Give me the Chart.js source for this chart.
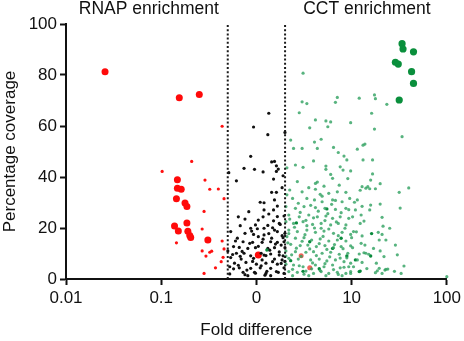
<!DOCTYPE html>
<html>
<head>
<meta charset="utf-8">
<script src="https://cdn.jsdelivr.net/npm/chart.js@4.4.1/dist/chart.umd.min.js"></script>
<style>
  html, body { margin: 0; padding: 0; background: #fff; }
  #wrap { width: 464px; height: 341px; }
</style>
</head>
<body>
<div id="wrap"><canvas id="volcano"></canvas></div>
<script>
// every point is [log10 fold difference, percentage coverage]
const xTicks = [0.01, 0.1, 1, 10, 100];
const xTickLabels = ['0.01', '0.1', '0', '10', '100'];
const yTicks = [0, 20, 40, 60, 80, 100];
const cutoffs = [0.5, 2];
const headers = ['RNAP enrichment', 'CCT enrichment'];

const rnapBig = [
  [-1.59, 81.3], [-0.81, 71.1], [-0.60, 72.4], [-0.83, 38.9], [-0.83, 35.6], [-0.79, 35.2],
  [-0.84, 31.5], [-0.75, 29.8], [-0.73, 28.4], [-0.73, 22.0], [-0.86, 20.8], [-0.82, 18.8],
  [-0.72, 18.7], [-0.70, 17.1], [-0.69, 16.3], [-0.51, 15.3], [0.02, 9.4]
];
const rnapSmall = [
  [-0.36, 59.9], [-0.99, 42.2], [-0.68, 46.1], [-0.54, 38.8], [-0.49, 35.2], [-0.40, 35.3],
  [-0.34, 31.5], [-0.55, 26.5], [-0.57, 19.6], [-0.84, 14.2], [-0.36, 14.9], [-0.57, 11.0],
  [-0.47, 10.9], [-0.53, 9.0], [-0.34, 11.8], [-0.37, 6.8], [-0.43, 4.4], [-0.55, 2.2],
  [-0.35, 8.5], [-0.49, 10.5]
];
const rnapMid = [[0.47, 9.1], [0.56, 4.4]];

const middle = [
  [0.13, 65.0], [-0.03, 59.6], [0.12, 56.6], [0.30, 57.5], [-0.06, 48.1], [0.16, 45.9],
  [0.19, 46.1], [-0.13, 43.4], [-0.02, 43.0], [0.07, 42.0], [0.21, 44.4], [0.23, 43.1],
  [0.21, 42.2], [-0.29, 41.7], [-0.21, 38.5], [0.18, 39.2], [0.28, 40.5], [0.16, 34.0],
  [0.21, 34.0], [0.19, 31.0], [0.04, 30.1], [0.08, 29.9], [0.18, 27.1], [0.08, 27.1],
  [-0.08, 26.4], [-0.19, 24.4], [0.07, 24.4], [0.22, 24.5], [0.29, 24.7], [0.02, 23.1],
  [-0.12, 23.5], [-0.17, 20.9], [-0.01, 21.2], [0.12, 21.0], [0.24, 21.8], [-0.06, 19.9],
  [0.08, 19.9], [0.17, 20.1], [0.19, 19.2], [-0.27, 18.6], [-0.12, 17.9], [-0.03, 17.5],
  [0.08, 17.3], [0.13, 17.8], [0.22, 18.6], [0.30, 17.9], [-0.20, 16.0], [0.02, 16.6],
  [0.16, 16.0], [0.28, 16.2], [-0.14, 14.6], [-0.04, 14.4], [0.06, 14.4], [0.15, 14.6],
  [0.22, 14.4], [0.26, 13.3], [-0.24, 12.7], [-0.18, 12.4], [-0.09, 12.0], [-0.01, 12.3],
  [0.12, 12.0], [0.19, 12.3], [0.30, 12.3], [-0.30, 11.0], [-0.21, 10.1], [-0.13, 10.1],
  [-0.06, 9.1], [0.08, 9.4], [0.15, 9.8], [0.24, 9.4], [-0.27, 8.4], [-0.16, 7.8],
  [-0.03, 8.1], [0.06, 7.5], [0.19, 7.8], [0.27, 7.5], [-0.23, 6.2], [-0.11, 6.5],
  [0.00, 5.8], [0.10, 6.2], [0.22, 5.8], [-0.28, 4.8], [-0.18, 4.4], [-0.06, 4.2],
  [0.04, 4.4], [0.15, 4.2], [0.29, 4.4], [-0.14, 2.6], [-0.02, 2.6], [0.10, 2.2],
  [0.23, 2.6], [-0.09, 1.3], [0.15, 1.3], [0.05, 10.1],
  [-0.28, 2.0], [-0.25, 9.6], [-0.22, 14.9], [-0.19, 5.4], [-0.15, 10.8], [-0.10, 3.5],
  [-0.07, 14.0], [-0.04, 6.9], [-0.01, 2.3], [0.02, 12.8], [0.05, 5.2], [0.07, 15.6],
  [0.10, 9.2], [0.11, 3.0], [0.14, 11.3], [0.17, 6.8], [0.20, 13.7], [0.21, 2.9],
  [0.24, 10.6], [0.26, 6.1], [0.27, 17.0], [0.29, 2.2], [0.28, 9.1], [0.25, 21.4],
  [0.22, 28.6], [0.27, 35.8], [0.29, 14.6], [0.30, 6.9], [0.18, 22.8], [0.13, 25.5],
  [-0.05, 18.8], [-0.17, 8.9], [-0.24, 4.0], [0.01, 19.7], [0.09, 1.5], [-0.12, 1.7]
];

const cctBig = [
  [1.53, 92.3], [1.54, 90.2], [1.65, 89.1], [1.46, 85.0], [1.49, 84.3], [1.63, 81.3],
  [1.65, 76.7], [1.50, 70.2]
];
const cctDark = [
  [1.21, 17.8], [1.04, 7.5], [1.09, 3.1], [1.08, 2.9], [0.56, 14.6], [0.42, 22.0],
  [0.74, 27.5], [0.95, 9.0], [0.36, 7.2], [0.66, 4.0], [0.89, 16.0], [1.20, 9.0],
  [0.49, 3.0], [0.80, 12.0], [0.11, 11.4]
];
const cctSmall = [
  [0.49, 80.7], [0.48, 69.5], [0.53, 68.8], [0.85, 71.2], [0.83, 69.3], [1.08, 70.9],
  [0.45, 65.2], [0.62, 62.4], [0.73, 62.0], [0.78, 61.6], [0.99, 61.3], [0.75, 59.7],
  [0.56, 59.3], [1.21, 65.0], [0.36, 54.5], [0.39, 51.2], [0.48, 51.2], [0.61, 53.7],
  [0.68, 54.8], [0.64, 51.2], [0.81, 51.6], [0.86, 49.6], [0.92, 48.2], [1.06, 50.9],
  [1.12, 52.5], [1.14, 52.9], [1.24, 72.2], [1.25, 70.7], [1.37, 68.5], [1.24, 58.8],
  [1.53, 55.8], [1.22, 46.7], [1.17, 36.2], [1.30, 29.4], [1.36, 3.8], [1.15, 10.1],
  [1.06, 7.5], [1.12, 46.7], [0.99, 42.4], [1.22, 41.2], [1.20, 38.8], [1.30, 37.4],
  [1.15, 35.6], [1.19, 35.4], [1.25, 35.4], [1.11, 36.2], [1.09, 34.8], [1.50, 34.0],
  [1.60, 35.7], [1.51, 27.8], [1.06, 31.0], [1.03, 30.1], [1.11, 28.5], [1.20, 29.0],
  [1.04, 27.1], [1.10, 25.1], [1.01, 24.4], [1.32, 24.2], [1.09, 21.8], [1.33, 20.7],
  [1.02, 18.6], [1.28, 18.3], [1.11, 16.9], [1.32, 17.5], [1.00, 16.2], [1.29, 15.3],
  [1.36, 15.3], [1.10, 14.0], [1.46, 13.3], [1.14, 13.3], [1.01, 12.3], [1.13, 10.3],
  [1.18, 9.7], [1.30, 11.0], [0.99, 6.2], [1.11, 6.5], [1.26, 6.2], [1.02, 4.8],
  [1.29, 4.2], [1.35, 3.5], [1.38, 3.9], [1.25, 2.5], [1.32, 2.2], [1.52, 2.2],
  [1.55, 5.1], [0.99, 2.2], [2.00, 0.9],
  [0.60, 46.3], [0.73, 44.3], [0.73, 43.0], [0.41, 44.7], [0.49, 43.8], [0.32, 43.6],
  [0.88, 44.0], [0.95, 46.7], [0.91, 42.7], [0.43, 38.2], [0.62, 37.5], [0.80, 39.5],
  [0.35, 34.9], [0.48, 34.2], [0.62, 35.2], [0.67, 33.2], [0.76, 33.6], [0.85, 34.2],
  [0.94, 34.0], [0.38, 31.6], [0.53, 31.6], [0.61, 31.0], [0.69, 30.3], [0.80, 31.0],
  [0.90, 30.3], [0.98, 31.6], [0.31, 28.4], [0.41, 27.7], [0.50, 28.4], [0.62, 28.0],
  [0.72, 27.7], [0.83, 27.3], [0.94, 27.7], [0.34, 25.1], [0.45, 24.4], [0.55, 25.1],
  [0.64, 24.4], [0.73, 24.7], [0.80, 23.8], [0.88, 24.4], [0.97, 23.8], [0.31, 22.5],
  [0.39, 21.8], [0.49, 22.5], [0.59, 21.4], [0.68, 21.8], [0.78, 21.2], [0.86, 21.8],
  [0.94, 21.2], [0.34, 19.2], [0.43, 18.6], [0.53, 19.2], [0.62, 18.3], [0.71, 18.8],
  [0.81, 17.9], [0.90, 18.3], [0.99, 17.5], [0.32, 16.6], [0.41, 16.0], [0.50, 16.2],
  [0.58, 15.3], [0.67, 15.7], [0.76, 14.9], [0.85, 15.3], [0.94, 14.9], [0.36, 13.6],
  [0.46, 13.1], [0.54, 13.3], [0.63, 12.7], [0.72, 13.1], [0.81, 12.3], [0.89, 12.7],
  [0.31, 11.0], [0.41, 10.7], [0.52, 10.5], [0.60, 10.7], [0.69, 10.1], [0.78, 10.5],
  [0.87, 9.7], [0.96, 10.1], [0.34, 8.1], [0.44, 7.8], [0.57, 7.5], [0.66, 7.8],
  [0.74, 7.1], [0.83, 7.5], [0.92, 6.8], [0.31, 5.8], [0.39, 5.5], [0.49, 4.8],
  [0.62, 5.5], [0.71, 4.8], [0.80, 5.5], [0.88, 4.4], [0.97, 4.8], [0.34, 2.9],
  [0.43, 2.6], [0.52, 3.1], [0.60, 2.2], [0.68, 2.9], [0.76, 2.2], [0.85, 2.6],
  [0.94, 2.2], [0.99, 2.9], [0.38, 1.3], [0.55, 1.3], [0.73, 1.3], [0.90, 1.3],
  [0.33, 14.2], [0.37, 9.5], [0.42, 12.1], [0.47, 8.9], [0.51, 17.4], [0.56, 11.8],
  [0.59, 6.3], [0.63, 9.2], [0.66, 13.9], [0.70, 16.7], [0.74, 11.6], [0.77, 8.7],
  [0.82, 13.5], [0.86, 17.0], [0.91, 11.9], [0.95, 8.3], [0.35, 23.5], [0.40, 20.3],
  [0.46, 26.1], [0.52, 23.0], [0.57, 28.9], [0.61, 20.0], [0.65, 26.6], [0.69, 32.5],
  [0.72, 22.9], [0.76, 19.6], [0.79, 29.3], [0.84, 22.4], [0.89, 26.0], [0.93, 19.9],
  [0.97, 27.2], [0.32, 33.0], [0.44, 29.7], [0.55, 35.8], [0.64, 38.0], [0.71, 36.4],
  [0.78, 41.0], [0.87, 36.8], [0.96, 39.4], [0.38, 3.8], [0.45, 5.2], [0.50, 1.9],
  [0.58, 4.0], [0.67, 3.3], [0.72, 6.0], [0.81, 3.7], [0.86, 1.8], [0.92, 4.6],
  [0.31, 9.0], [0.34, 17.8], [0.48, 14.8], [0.53, 20.9], [0.60, 24.0], [0.68, 19.9],
  [0.75, 25.6], [0.83, 30.8], [0.88, 8.2], [0.99, 13.0], [1.05, 18.5], [1.08, 9.8],
  [1.13, 22.7], [1.16, 4.1], [1.19, 27.1], [1.23, 12.0], [1.27, 3.2], [1.34, 8.8],
  [1.40, 19.9], [1.45, 3.0], [1.48, 9.5]
];

const FONT = "'Liberation Sans', Arial, sans-serif";

function toXY(list) {
  return list.map(p => ({ x: Math.pow(10, p[0]), y: p[1] }));
}

function dots(list, color, r) {
  return {
    type: 'scatter',
    data: toXY(list),
    backgroundColor: color,
    borderWidth: 0,
    pointRadius: r,
    pointHoverRadius: r,
    clip: false
  };
}

function cutoffLine(x) {
  return {
    type: 'line',
    data: [{ x: x, y: 0 }, { x: x, y: 100 }],
    borderColor: '#1a1a1a',
    borderWidth: 2,
    borderDash: [2, 2.2],
    pointRadius: 0,
    fill: false
  };
}

// header text above the two enrichment sides
const headerPlugin = {
  id: 'headers',
  afterDraw(chart) {
    const c = chart.ctx;
    const xs = chart.scales.x;
    c.save();
    c.font = '17.5px ' + FONT;
    c.fillStyle = '#111';
    c.textAlign = 'center';
    c.textBaseline = 'middle';
    c.fillText(headers[0], xs.getPixelForValue(Math.pow(10, -1.13)), 9);
    c.fillText(headers[1], xs.getPixelForValue(Math.pow(10, 1.16)), 9);
    c.restore();
  }
};

new Chart(document.getElementById('volcano'), {
  type: 'scatter',
  data: {
    datasets: [
      cutoffLine(cutoffs[0]),
      cutoffLine(cutoffs[1]),
      dots(cctSmall, 'rgba(46,160,95,0.8)', 1.6),
      dots(cctDark, '#0a8a3c', 1.7),
      dots(middle, '#111', 1.6),
      dots(rnapSmall, '#ff1010', 1.6),
      dots(rnapMid, 'rgba(240,70,60,0.85)', 2.5),
      dots(rnapBig, '#ff0a0a', 3.5),
      dots(cctBig, '#0a8f3c', 3.6)
    ]
  },
  options: {
    responsive: true,
    maintainAspectRatio: false,
    animation: false,
    events: [],
    layout: { padding: { top: 24, right: 16, left: 0, bottom: 0 } },
    plugins: { legend: { display: false }, tooltip: { enabled: false } },
    scales: {
      x: {
        type: 'logarithmic',
        min: 0.01,
        max: 100,
        afterBuildTicks: (scale) => { scale.ticks = xTicks.map(v => ({ value: v })); },
        afterFit: (scale) => { scale.height = 62; },
        ticks: {
          color: '#111',
          font: { family: FONT, size: 17 },
          padding: 3,
          maxRotation: 0,
          callback: (v) => xTickLabels[xTicks.indexOf(v)]
        },
        grid: { display: true, drawOnChartArea: false, drawTicks: true, tickLength: 6, tickColor: '#111', tickWidth: 2 },
        border: { display: true, color: '#111', width: 2 },
        title: { display: true, text: 'Fold difference', color: '#111', font: { family: FONT, size: 17 }, padding: { top: 0, bottom: 0 } }
      },
      y: {
        min: 0,
        max: 100,
        afterBuildTicks: (scale) => { scale.ticks = yTicks.map(v => ({ value: v })); },
        afterFit: (scale) => { scale.width = 66; },
        ticks: { color: '#111', font: { family: FONT, size: 17 }, padding: 3 },
        grid: { display: true, drawOnChartArea: false, drawTicks: true, tickLength: 6, tickColor: '#111', tickWidth: 2 },
        border: { display: true, color: '#111', width: 2 },
        title: { display: true, text: 'Percentage coverage', color: '#111', font: { family: FONT, size: 17 }, padding: { top: 0, bottom: 0 } }
      }
    }
  },
  plugins: [headerPlugin]
});
</script>
</body>
</html>
